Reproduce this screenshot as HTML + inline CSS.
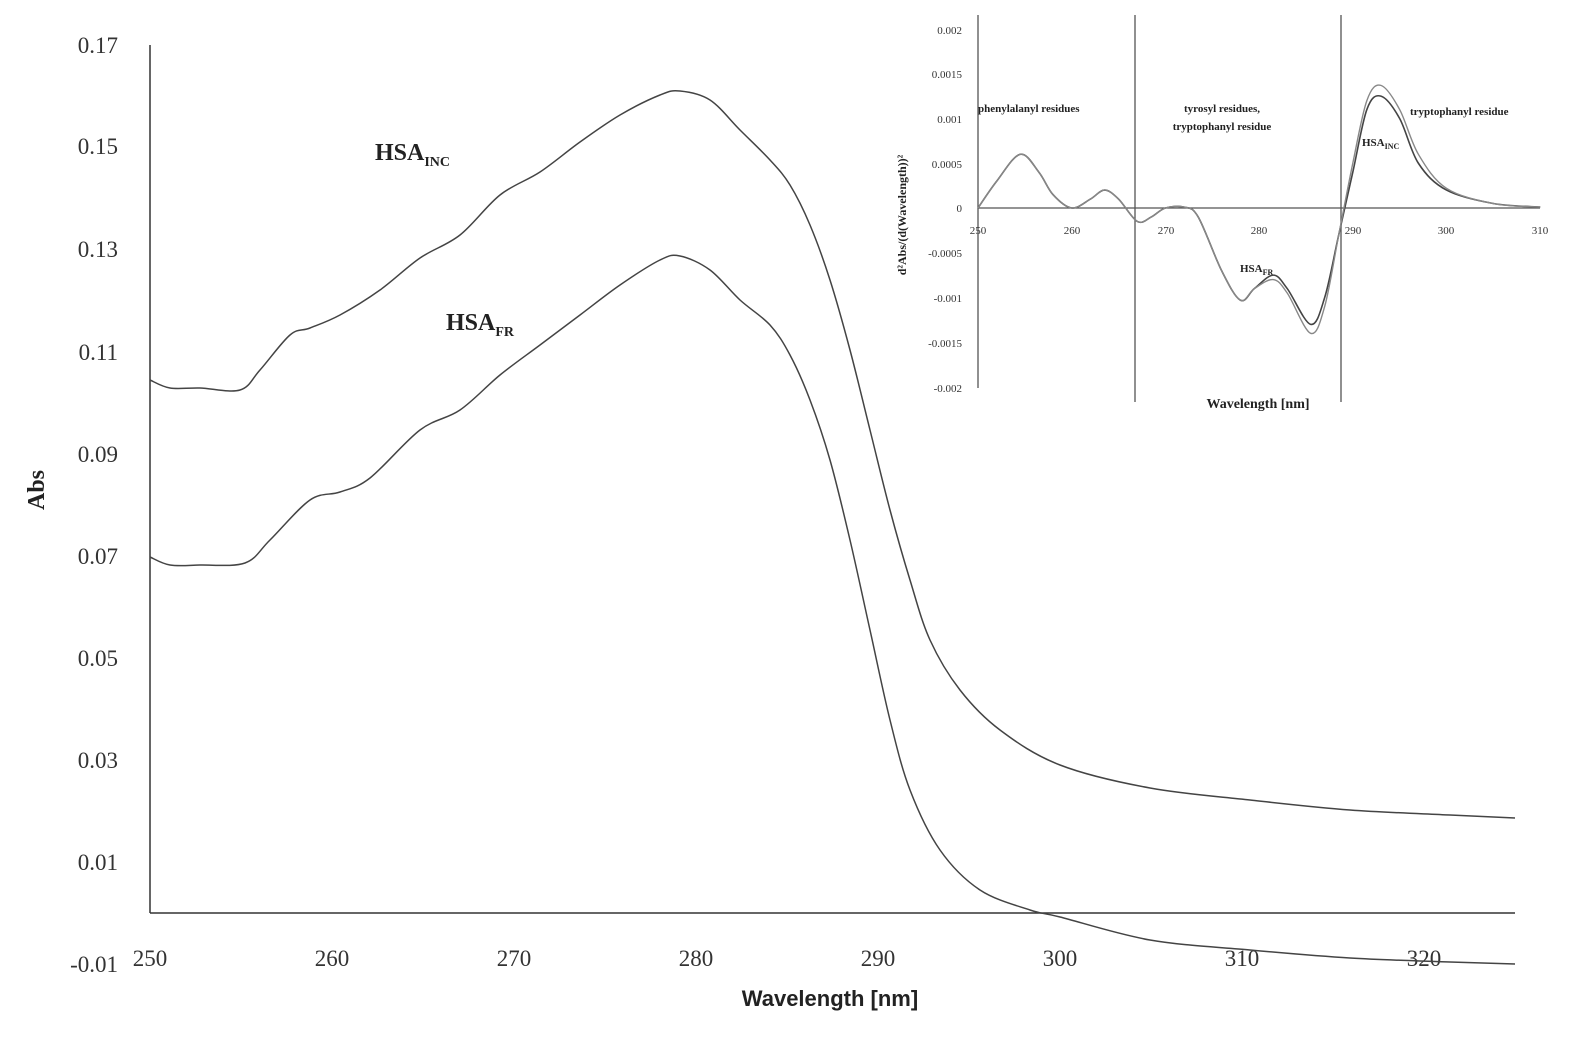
<!DOCTYPE html>
<html><head><meta charset="utf-8"><style>
body{margin:0;background:#fff;}
svg{display:block}
.t{font-family:"Liberation Serif",serif;font-size:23px;fill:#333}
.s{font-family:"Liberation Serif",serif;font-size:11px;fill:#333}
.sb{font-family:"Liberation Serif",serif;font-size:12px;fill:#222;font-weight:bold}
</style></head><body>
<svg id="g" width="1587" height="1041" xmlns="http://www.w3.org/2000/svg">
<rect width="1587" height="1041" fill="#fff"/>
<line x1="150" y1="45" x2="150" y2="913" stroke="#333" stroke-width="1.5"/>
<line x1="150" y1="913" x2="1515" y2="913" stroke="#333" stroke-width="1.5"/>
<g class="t" text-anchor="end">
<text x="118" y="53">0.17</text><text x="118" y="154">0.15</text><text x="118" y="257">0.13</text>
<text x="118" y="360">0.11</text><text x="118" y="462">0.09</text><text x="118" y="564">0.07</text>
<text x="118" y="666">0.05</text><text x="118" y="768">0.03</text><text x="118" y="870">0.01</text>
<text x="118" y="972">-0.01</text></g>
<g class="t" text-anchor="middle">
<text x="150" y="966">250</text><text x="332" y="966">260</text><text x="514" y="966">270</text>
<text x="696" y="966">280</text><text x="878" y="966">290</text><text x="1060" y="966">300</text>
<text x="1242" y="966">310</text><text x="1424" y="966">320</text></g>
<text x="830" y="1006" text-anchor="middle" style="font-family:'Liberation Sans',sans-serif;font-weight:bold;font-size:22px;fill:#222">Wavelength [nm]</text>
<text transform="translate(44,490) rotate(-90)" text-anchor="middle" style="font-family:'Liberation Serif',serif;font-weight:bold;font-size:24px;fill:#222">Abs</text>
<text x="375" y="160" style="font-family:'Liberation Serif',serif;font-weight:bold;font-size:24px;fill:#222">HSA<tspan font-size="14" dy="6">INC</tspan></text>
<text x="446" y="330" style="font-family:'Liberation Serif',serif;font-weight:bold;font-size:24px;fill:#222">HSA<tspan font-size="14" dy="6">FR</tspan></text>
<path id="inc" fill="none" stroke="#444" stroke-width="1.5"/>
<path id="fr" fill="none" stroke="#444" stroke-width="1.5"/>
<!-- inset -->
<line x1="978" y1="15" x2="978" y2="388" stroke="#555" stroke-width="1.3"/>
<line x1="1135" y1="15" x2="1135" y2="402" stroke="#555" stroke-width="1.3"/>
<line x1="1341" y1="15" x2="1341" y2="402" stroke="#555" stroke-width="1.3"/>
<line x1="978" y1="208" x2="1540" y2="208" stroke="#555" stroke-width="1.3"/>
<g class="s" text-anchor="end">
<text x="962" y="34">0.002</text><text x="962" y="78">0.0015</text><text x="962" y="123">0.001</text>
<text x="962" y="168">0.0005</text><text x="962" y="212">0</text><text x="962" y="257">-0.0005</text>
<text x="962" y="302">-0.001</text><text x="962" y="347">-0.0015</text><text x="962" y="392">-0.002</text></g>
<g class="s" text-anchor="middle">
<text x="978" y="234">250</text><text x="1072" y="234">260</text><text x="1166" y="234">270</text>
<text x="1259" y="234">280</text><text x="1353" y="234">290</text><text x="1446" y="234">300</text><text x="1540" y="234">310</text></g>
<text transform="translate(906,215) rotate(-90)" text-anchor="middle" class="sb">d²Abs/(d(Wavelength))²</text>
<text x="1258" y="408" text-anchor="middle" class="sb" style="font-size:14px">Wavelength [nm]</text>
<text x="978" y="112" class="sb" style="font-size:11px">phenylalanyl residues</text>
<text x="1222" y="112" text-anchor="middle" class="sb" style="font-size:11px">tyrosyl residues,</text>
<text x="1222" y="130" text-anchor="middle" class="sb" style="font-size:11px">tryptophanyl residue</text>
<text x="1410" y="115" class="sb" style="font-size:11px">tryptophanyl residue</text>
<text x="1362" y="146" class="sb" style="font-size:11px">HSA<tspan font-size="8" dy="3">INC</tspan></text>
<text x="1240" y="272" class="sb" style="font-size:11px">HSA<tspan font-size="8" dy="3">FR</tspan></text>
<path id="i1" fill="none" stroke="#444" stroke-width="1.6"/>
<path id="i2" fill="none" stroke="#888" stroke-width="1.4"/>
</svg>
<script>
function cr(p){let d="M"+p[0][0]+","+p[0][1];for(let i=0;i<p.length-1;i++){const a=p[i-1]||p[i],b=p[i],c=p[i+1],e=p[i+2]||c;
d+=" C"+(b[0]+(c[0]-a[0])/6)+","+(b[1]+(c[1]-a[1])/6)+" "+(c[0]-(e[0]-b[0])/6)+","+(c[1]-(e[1]-b[1])/6)+" "+c[0]+","+c[1];}return d;}
const inc=[[150,380],[170,388],[200,388],[240,390],[260,370],[290,335],[310,328],[340,315],[380,290],[420,258],[460,235],[500,195],[540,172],[580,142],[620,115],[660,95],[680,91],[710,100],[740,130],[770,160],[790,185],[810,225],[830,280],[850,350],[870,430],[890,510],[910,580],[930,640],[960,690],[1000,730],[1060,765],[1150,788],[1250,800],[1350,810],[1450,815],[1515,818]];
const fr=[[150,557],[170,565],[200,565],[245,563],[270,540],[310,500],[340,492],[370,478],[420,430],[460,410],[500,375],[540,345],[580,315],[620,285],[660,260],[680,256],[710,270],[740,300],[770,325],[790,355],[810,400],[830,460],[850,540],[870,630],[890,720],[910,790],[940,850],[980,890],[1030,910],[1060,917],[1150,940],[1250,950],[1350,958],[1450,962],[1515,964]];
document.getElementById("inc").setAttribute("d",cr(inc));
document.getElementById("fr").setAttribute("d",cr(fr));
const X=n=>978+(n-250)*9.37,Y=v=>208-v*89500;
const b=[[250,0],[252,0.0003],[254.5,0.0006],[256.5,0.0004],[258,0.00015],[260,0],[262,0.0001],[263.5,0.0002],[265,0.0001],[267,-0.00015],[268.5,-0.0001],[270,0],[272,0.00001],[273.5,-0.0001],[276,-0.0007],[278,-0.00103],[279.5,-0.0009]];
const t1=[[281.5,-0.00075],[283,-0.0009],[285.5,-0.0013],[287,-0.001],[288.5,-0.0003],[290,0.0004],[291.5,0.0011],[293,0.00125],[295,0.001],[297,0.0005],[300,0.0002],[305,0.00005],[310,0.00001]];
const t2=[[281.5,-0.0008],[283,-0.00095],[285.5,-0.0014],[287,-0.0011],[288.5,-0.0003],[290,0.0005],[291.5,0.0012],[293,0.00137],[295,0.0011],[297,0.0006],[300,0.00022],[305,0.00005],[310,0.00001]];
const m=a=>a.map(p=>[X(p[0]),Y(p[1])]);
document.getElementById("i1").setAttribute("d",cr(m(b.concat(t1))));
document.getElementById("i2").setAttribute("d",cr(m(b.concat(t2))));
</script>
</body></html>
